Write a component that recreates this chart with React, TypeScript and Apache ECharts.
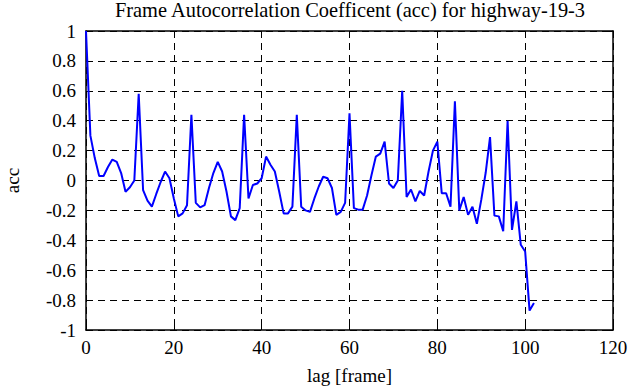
import React, { useEffect, useRef } from "react";
import * as echarts from "echarts";

const titleText = "Frame Autocorrelation Coefficent (acc) for highway-19-3";
const xName = "lag [frame]";
const yName = "acc";

const lags: number[] = Array.from({ length: 103 }, (_, i) => i);

const acc: number[] = [
  1.0, 0.3, 0.15, 0.03, 0.03, 0.09, 0.14, 0.125, 0.05, -0.075,
  -0.045, 0.0, 0.58, -0.065, -0.135, -0.175, -0.09, -0.01, 0.06, 0.015,
  -0.12, -0.24, -0.22, -0.165, 0.44, -0.15, -0.18, -0.165, -0.05, 0.05,
  0.125, 0.06, -0.075, -0.24, -0.265, -0.185, 0.44, -0.12, -0.03, -0.02,
  0.015, 0.16, 0.105, 0.06, -0.075, -0.22, -0.22, -0.175, 0.44, -0.175,
  -0.2, -0.21, -0.12, -0.04, 0.025, 0.015, -0.05, -0.23, -0.21, -0.15,
  0.45, -0.185, -0.195, -0.195, -0.1, 0.035, 0.16, 0.18, 0.26, -0.02,
  -0.05, 0.0, 0.6, -0.11, -0.06, -0.14, -0.07, -0.1, 0.06, 0.2,
  0.26, -0.085, -0.085, -0.175, 0.53, -0.2, -0.11, -0.23, -0.175, -0.29,
  -0.13, 0.05, 0.29, -0.235, -0.24, -0.34, 0.4, -0.33, -0.14, -0.43,
  -0.475, -0.87, -0.82,
];

const FONT = "Liberation Serif";

export default function App() {
  const ref = useRef<HTMLDivElement>(null);

  useEffect(() => {
    document.body.style.margin = "0";
    if (!ref.current) return;
    const chart = echarts.init(ref.current, undefined, { renderer: "svg" });

    const axisLine = { show: true, onZero: false, lineStyle: { color: "#000", width: 1.5 } };
    const axisTickIn = { show: true, inside: true, length: 5, lineStyle: { color: "#000", width: 1 } };
    const split = { show: true, lineStyle: { color: "#000", type: [7, 5] as any, width: 1 } };
    const rich = { t: { color: "#000", fontFamily: FONT, fontSize: 19 } };
    const fmt = (v: number) => `{t|${Math.round(v * 10) / 10}}`;

    chart.setOption({
      animation: false,
      backgroundColor: "#fff",
      textStyle: { fontFamily: FONT, fontSize: 19, color: "#000" },
      title: {
        text: titleText,
        left: 350,
        textAlign: "center",
        top: 0,
        padding: 0,
        textStyle: { color: "#000", fontFamily: FONT, fontSize: 20.4, fontWeight: "normal" },
      },
      grid: {
        left: 86,
        top: 31,
        width: 527,
        height: 299,
        containLabel: false,
        outerBoundsMode: "none",
      },
      xAxis: [
        {
          type: "value",
          min: 0,
          max: 120,
          interval: 20,
          axisLine,
          axisTick: axisTickIn,
          splitLine: split,
          axisLabel: {
            color: "#000",
            fontFamily: FONT,
            fontSize: 19,
            margin: 8,
            formatter: fmt,
            rich,
          },
          name: xName,
          nameLocation: "middle",
          nameGap: 36,
          nameTextStyle: { color: "#000", fontFamily: FONT, fontSize: 19 },
        },
        {
          type: "value",
          position: "top",
          min: 0,
          max: 120,
          interval: 20,
          axisLine,
          axisTick: axisTickIn,
          splitLine: { show: false },
          axisLabel: { show: false },
        },
      ],
      yAxis: [
        {
          type: "value",
          min: -1,
          max: 1,
          interval: 0.2,
          axisLine,
          axisTick: axisTickIn,
          splitLine: split,
          axisLabel: {
            color: "#000",
            fontFamily: FONT,
            fontSize: 19,
            margin: 10,
            formatter: fmt,
            rich,
          },
          name: yName,
          nameLocation: "middle",
          nameGap: 64,
          nameRotate: 90,
          nameTextStyle: { color: "#000", fontFamily: FONT, fontSize: 19 },
        },
        {
          type: "value",
          position: "right",
          min: -1,
          max: 1,
          interval: 0.2,
          axisLine,
          axisTick: axisTickIn,
          splitLine: { show: false },
          axisLabel: { show: false },
        },
      ],
      series: [
        {
          type: "line",
          xAxisIndex: 0,
          yAxisIndex: 0,
          data: lags.map((l, i) => [l, acc[i]]),
          showSymbol: false,
          symbol: "none",
          lineStyle: { color: "#0000ff", width: 2 },
          itemStyle: { color: "#0000ff" },
        },
      ],
    });

    return () => chart.dispose();
  }, []);

  return (
    <div
      ref={ref}
      style={{ position: "absolute", left: 0, top: 0, width: 635, height: 387, background: "#fff" }}
    />
  );
}
